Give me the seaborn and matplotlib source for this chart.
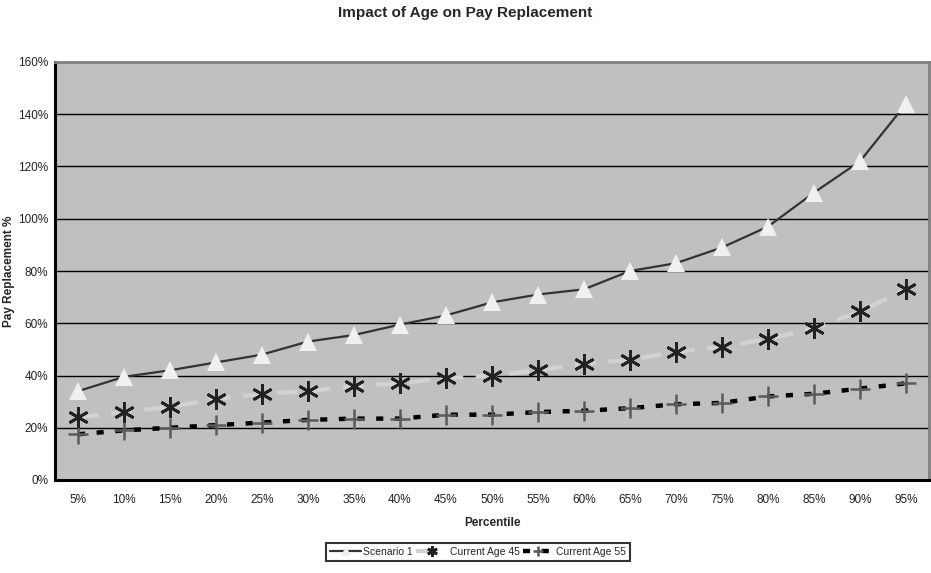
import matplotlib
matplotlib.use("Agg")
import matplotlib.pyplot as plt
import numpy as np
import pandas as pd
import seaborn as sns

percentiles = ["5%", "10%", "15%", "20%", "25%", "30%", "35%", "40%", "45%", "50%",
               "55%", "60%", "65%", "70%", "75%", "80%", "85%", "90%", "95%"]
scenario_1 = [34, 39.5, 42, 45, 48, 53, 55.5, 59.5, 63, 68,
              71, 73, 80, 83, 89, 97, 110, 122, 144]
current_age_45 = [24, 26, 28, 31, 33, 34, 36, 37, 39, 40,
                  42, 44.5, 46, 49, 51, 54, 58, 64.5, 73]
current_age_55 = [17.5, 19, 20, 21, 22, 23, 23.5, 23.5, 25, 25,
                  26, 26.5, 27.5, 29, 29.5, 32, 33, 35, 37]
y_ticks = [0, 20, 40, 60, 80, 100, 120, 140, 160]

sns.set_theme(style="white")
plt.rcParams["font.family"] = ["Liberation Sans", "DejaVu Sans"]

fig = plt.figure(figsize=(9.31, 5.73), dpi=100)
ax = fig.add_axes([55 / 931, 1 - 480 / 573, (929 - 55) / 931, (480 - 62) / 573])
ax.set_facecolor("#C0C0C0")

pos = np.arange(len(percentiles))
df = pd.DataFrame({"pos": pos, "s1": scenario_1, "a45": current_age_45, "a55": current_age_55})

for v in y_ticks[1:-1]:
    ax.axhline(v, color="black", lw=1.0, zorder=1)

sns.lineplot(data=df, x="pos", y="a55", ax=ax, color="black", lw=3.2,
             zorder=3, label="Current Age 55")
ax.lines[-1].set_dashes([1.6, 2.6])
ax.lines[-1].set_marker("+")
ax.lines[-1].set_markersize(15)
ax.lines[-1].set_markeredgewidth(1.8)
ax.lines[-1].set_markeredgecolor("#5a5a5a")

sns.lineplot(data=df, x="pos", y="a45", ax=ax, color="#d2d2d2", lw=3.0,
             zorder=3, label="Current Age 45")
ax.lines[-1].set_dashes([5, 3])
ax.lines[-1].set_marker((6, 2, 0))
ax.lines[-1].set_markersize(15)
ax.lines[-1].set_markeredgewidth(2.0)
ax.lines[-1].set_markeredgecolor("#222222")

sns.lineplot(data=df, x="pos", y="s1", ax=ax, color="#333333", lw=1.6,
             zorder=4, label="Scenario 1", marker="^", markersize=13,
             markerfacecolor="#f0f0f0", markeredgecolor="#f0f0f0", markeredgewidth=0)

ax.set_xlim(-0.5, len(percentiles) - 0.5)
ax.set_ylim(0, 160)
ax.set_yticks(y_ticks)
ax.set_yticklabels([f"{v}%" for v in y_ticks], fontsize=8.5, color="#222222")
ax.set_xticks(pos)
ax.set_xticklabels(percentiles, fontsize=8.5, color="#222222")
ax.set_xticks(np.arange(-0.5, len(percentiles), 1.0), minor=True)
ax.tick_params(axis="x", which="major", length=0, pad=10)
ax.tick_params(axis="x", which="minor", length=4, width=1.5, color="black", direction="out")
ax.tick_params(axis="y", length=4, width=1.2, color="black", direction="out", pad=1)

for side in ("left", "bottom"):
    ax.spines[side].set_color("black")
    ax.spines[side].set_linewidth(2.2)
for side in ("top", "right"):
    ax.spines[side].set_color("#808080")
    ax.spines[side].set_linewidth(2.0)
    ax.spines[side].set_visible(True)

ax.set_xlabel("Percentile", fontsize=8.5, fontweight="bold", labelpad=8)
ax.set_ylabel("")
fig.text(9 / 931, 1 - 271 / 573, "Pay Replacement %", rotation=90, ha="center", va="center",
         fontsize=8.5, fontweight="bold")
fig.text(0.5, 1 - 13 / 573, "Impact of Age on Pay Replacement", ha="center", va="center",
         fontsize=11, fontweight="bold")

handles, labels = ax.get_legend_handles_labels()
order = [labels.index(n) for n in ["Scenario 1", "Current Age 45", "Current Age 55"]]
leg = ax.legend([handles[i] for i in order], [labels[i] for i in order],
                loc="center", bbox_to_anchor=(478 / 931, 1 - 552 / 573),
                bbox_transform=fig.transFigure, ncol=3, fontsize=7.5, frameon=True,
                fancybox=False, edgecolor="black", handlelength=3.0, handletextpad=0.2,
                columnspacing=0.3, borderpad=0.35, markerscale=0.5)
leg.get_frame().set_linewidth(1.5)

fig.savefig("out.png", dpi=100)
